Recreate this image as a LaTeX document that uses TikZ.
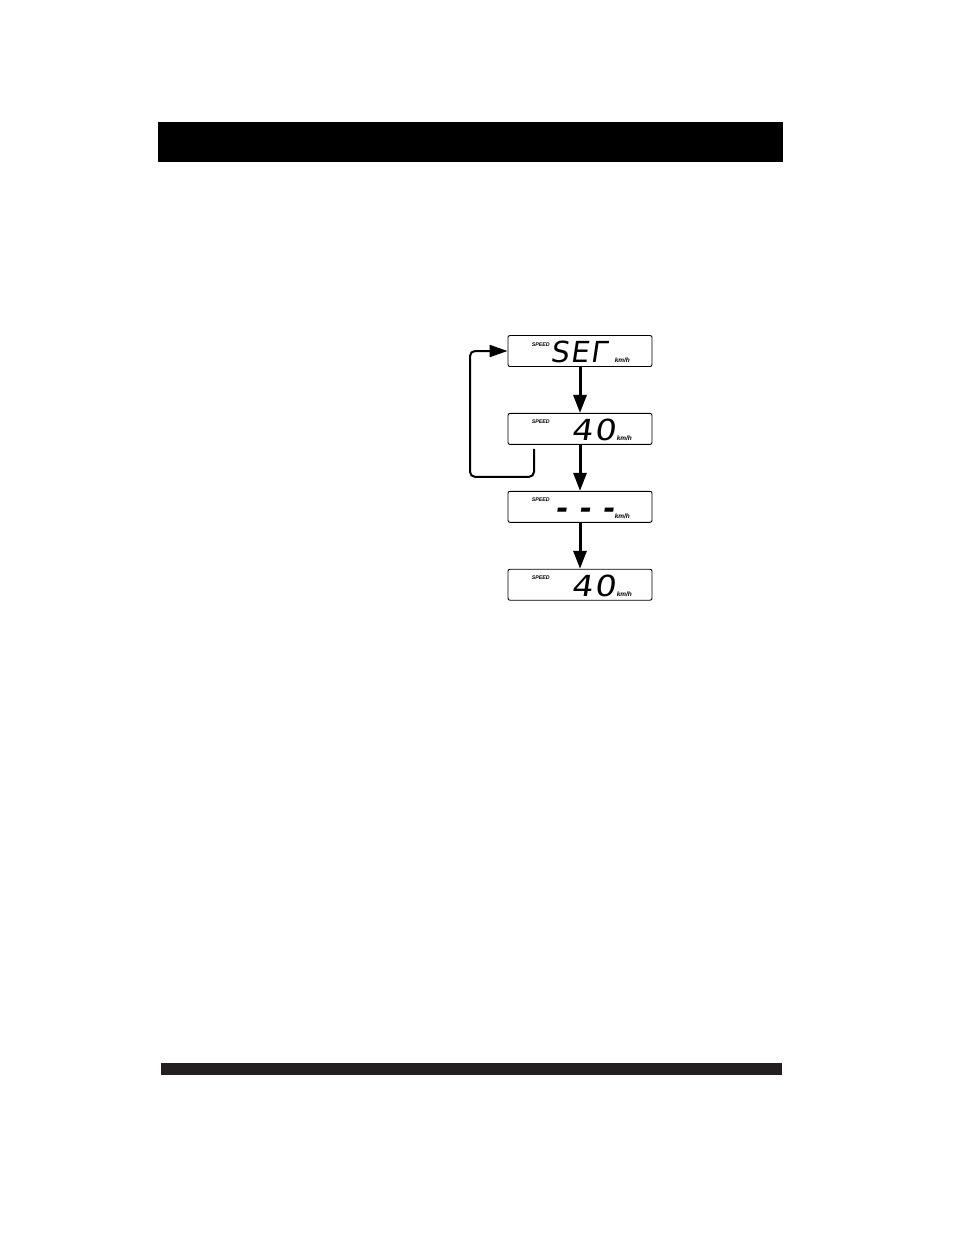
\documentclass[tikz,border=0pt]{standalone}
\usepackage{fontspec}
\usetikzlibrary{arrows.meta, positioning}
\newfontfamily\segfont[FakeSlant=0.15,LetterSpace=5]{DejaVu Sans}
\newfontfamily\digitfont[FakeSlant=0.15,FakeStretch=1.15,LetterSpace=4]{DejaVu Sans}
\newfontfamily\lblfont{Liberation Sans}
\definecolor{barink}{HTML}{231F20}
\begin{document}
\begin{tikzpicture}[
    x=1pt, y=-1pt,
    node distance=46pt,
    display/.style={rectangle, draw, line width=0.9pt, rounded corners=2pt, minimum width=144pt, minimum height=31pt, inner sep=0pt},
    segtext/.style={anchor=base west, inner sep=0pt, font=\segfont\fontsize{29}{29}\selectfont},
    digittext/.style={anchor=base west, inner sep=0pt, font=\digitfont\fontsize{29}{29}\selectfont},
    dashtext/.style={anchor=base west, inner sep=0pt, font=\segfont\bfseries\fontsize{29}{29}\selectfont},
    speedlbl/.style={anchor=base west, inner sep=0pt, font=\lblfont\bfseries\itshape\fontsize{5.3}{5.3}\selectfont},
    unitlbl/.style={anchor=base west, inner sep=0pt, font=\lblfont\bfseries\itshape\fontsize{6.5}{6.5}\selectfont},
    flowarrow/.style={-{Triangle[length=18pt, width=13pt]}, line width=3pt},
    looparrow/.style={-{Triangle[length=18pt, width=12pt]}, line width=2pt, rounded corners=5pt}
]
\useasboundingbox (0,0) rectangle (954,1235);

% Page bars
\fill[black] (158,122) rectangle (783,162);
\fill[barink] (161,1063) rectangle (782,1075);

% Display screens
\node[display] (disp1) at (580,351) {};
\node[display, below=of disp1] (disp2) {};
\node[display, below=of disp2] (disp3) {};
\node[display, below=of disp3] (disp4) {};

% Screen contents
\node[speedlbl] (spd1) at ([xshift=24pt,yshift=-11pt]disp1.north west) {SPEED};
\node[segtext] (val1) at ([xshift=43pt,yshift=4pt]disp1.south west) {SEΓ};
\node[unitlbl] (unit1) at ([xshift=107pt,yshift=4pt]disp1.south west) {km/h};

\node[speedlbl] (spd2) at ([xshift=24pt,yshift=-11pt]disp2.north west) {SPEED};
\node[digittext] (val2) at ([xshift=64pt,yshift=4pt]disp2.south west) {40};
\node[unitlbl] (unit2) at ([xshift=109pt,yshift=4pt]disp2.south west) {km/h};

\node[speedlbl] (spd3) at ([xshift=24pt,yshift=-11pt]disp3.north west) {SPEED};
\node[dashtext] (val3) at ([xshift=47pt,yshift=4pt]disp3.south west) {- - -};
\node[unitlbl] (unit3) at ([xshift=107pt,yshift=4pt]disp3.south west) {km/h};

\node[speedlbl] (spd4) at ([xshift=24pt,yshift=-11pt]disp4.north west) {SPEED};
\node[digittext] (val4) at ([xshift=64pt,yshift=4pt]disp4.south west) {40};
\node[unitlbl] (unit4) at ([xshift=109pt,yshift=4pt]disp4.south west) {km/h};

% Arrows - sequence
\draw[flowarrow] (disp1.south) -- (disp2.north);
\draw[flowarrow] (disp2.south) -- (disp3.north);
\draw[flowarrow] (disp3.south) -- (disp4.north);

% Arrow - back to start
\coordinate (loopstart) at ([xshift=-46pt,yshift=-4pt]disp2.south);
\draw[looparrow] (loopstart) |- ++(-64pt,-28pt) |- (disp1.west);

\end{tikzpicture}
\end{document}
